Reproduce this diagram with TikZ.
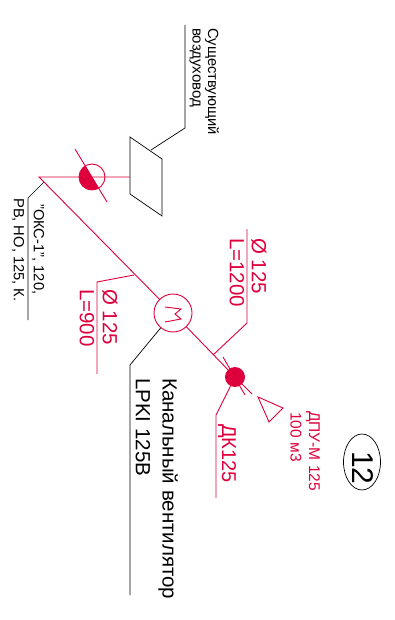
\documentclass[tikz,border=0pt]{standalone}
\usepackage{fontspec}
\setmainfont{Liberation Sans}
\usetikzlibrary{positioning, shapes.geometric}
\definecolor{duct}{RGB}{222,0,60}
\tikzset{
  redline/.style={draw=duct,line width=0.9pt},
  blackline/.style={draw=black,line width=0.7pt},
  redlabel/.style={color=duct,rotate=-90,anchor=west,inner sep=0pt,font=\fontsize{#1}{#1}\selectfont},
  blacklabel/.style={color=black,rotate=-90,anchor=west,inner sep=0pt,font=\fontsize{#1}{#1}\selectfont}
}
\begin{document}
\begin{tikzpicture}[x=1pt,y=-1pt]
   \useasboundingbox (0,0) rectangle (394,620);

   % Nodes
      \node[circle,minimum size=26pt,inner sep=0pt] (valve)  at (92,177)  {};
      \node[circle,draw=duct,line width=0.9pt,minimum size=38pt,inner sep=0pt] (motor)  at (173,313) {};
      \node[circle,fill=duct,minimum size=20pt,inner sep=0pt]                  (dot)    at (235,377) {};
      \node[ellipse,draw=black,line width=0.7pt,minimum width=37pt,minimum height=56pt,inner sep=0pt] (numb) at (362,462) {};
      \node[blacklabel=30] (numbt) at (363,451) {12};

      \coordinate (ductA)  at (130,137);
      \coordinate (ductB)  at (162,159);
      \coordinate (ductC)  at (162,216);
      \coordinate (ductD)  at (130,194);
      \coordinate (ductin) at (130,177);
      \coordinate (corner) at (39,177);
      \coordinate (ductm)  at (151,150);
      \coordinate (sup1)   at (185,128);
      \coordinate (sup2)   at (185,25);
      \coordinate (okc0)   at (44,182);
      \coordinate (okc1)   at (28,198);
      \coordinate (okc2)   at (28,320);
      \coordinate (br1a)   at (134,275);
      \coordinate (br1b)   at (97,282);
      \coordinate (br1c)   at (97,374);
      \coordinate (br2a)   at (213,355);
      \coordinate (br2b)   at (247,323);
      \coordinate (br2c)   at (247,229);
      \coordinate (dk1)    at (216,415);
      \coordinate (dk2)    at (216,498);
      \coordinate (fan1)   at (130,365);
      \coordinate (fan2)   at (130,595);
      \coordinate (tri1)   at (258,397);
      \coordinate (tri2)   at (283,408);
      \coordinate (tri3)   at (269,422);

      \node[blacklabel=14.7] (sup)   at (212,28)  {Существующий};
      \node[blacklabel=15]   (sup3)  at (195,28)  {воздуховод};
      \node[blacklabel=14.7] (okct)  at (38,204)  {"ОКС-1", 120,};
      \node[blacklabel=14.7] (okcb)  at (18,198)  {РВ, НО, 125, К.};
      \node[redlabel=20.5]   (d1)    at (110,289) {Ø 125};
      \node[redlabel=20.5]   (l1)    at (87,289)  {L=900};
      \node[redlabel=20.5]   (d2)    at (259,238) {Ø 125};
      \node[redlabel=20.5]   (l2)    at (237,238) {L=1200};
      \node[redlabel=20]     (dkt)   at (227,424) {ДК125};
      \node[redlabel=15.5]   (dpu)   at (313,411) {ДПУ-М 125};
      \node[redlabel=15.5]   (dput)  at (296,412) {100 м3};
      \node[blacklabel=20.5] (fant)  at (168,378) {Канальный вентилятор};
      \node[blacklabel=20.5] (fanb)  at (143,378) {LPKI 125B};

   % Paths
      \path[blackline] (sup2) -- (sup1) -- (ductm);
      \path[blackline] (ductA) -- (ductB) -- (ductC) -- (ductD) -- cycle;
      \path[blackline] (okc0) -- (okc1) -- (okc2);
      \path[blackline] (motor) -- (fan1) -- (fan2);
      \path[redline] (ductin) -- (corner) -- (motor);
      \path[redline] (br1a) -- (br1b) -- (br1c);
      \path[redline] (motor) -- (dot);
      \path[redline] (br2a) -- (br2b) -- (br2c);
      \path[redline] (dot) -- (dk1) -- (dk2);
      \path[redline] (tri1) -- (tri2) -- (tri3) -- cycle;

      % valve
      \fill[duct] (valve.center) ++(238.9:13) arc[start angle=238.9,end angle=58.9,radius=13] -- cycle;
      \path[redline] (valve.center) circle[radius=13];
      \path[redline] (75,149) -- (107,202);
      \path[redline] (223,357) -- (245,395);
      \path[redline] (dot) -- (252,394);

      % motor mark
      \path[redline] (165,307) -- (181,309) -- (175,314) -- (181,319) -- (165,322);
   \end{tikzpicture}
\end{document}
